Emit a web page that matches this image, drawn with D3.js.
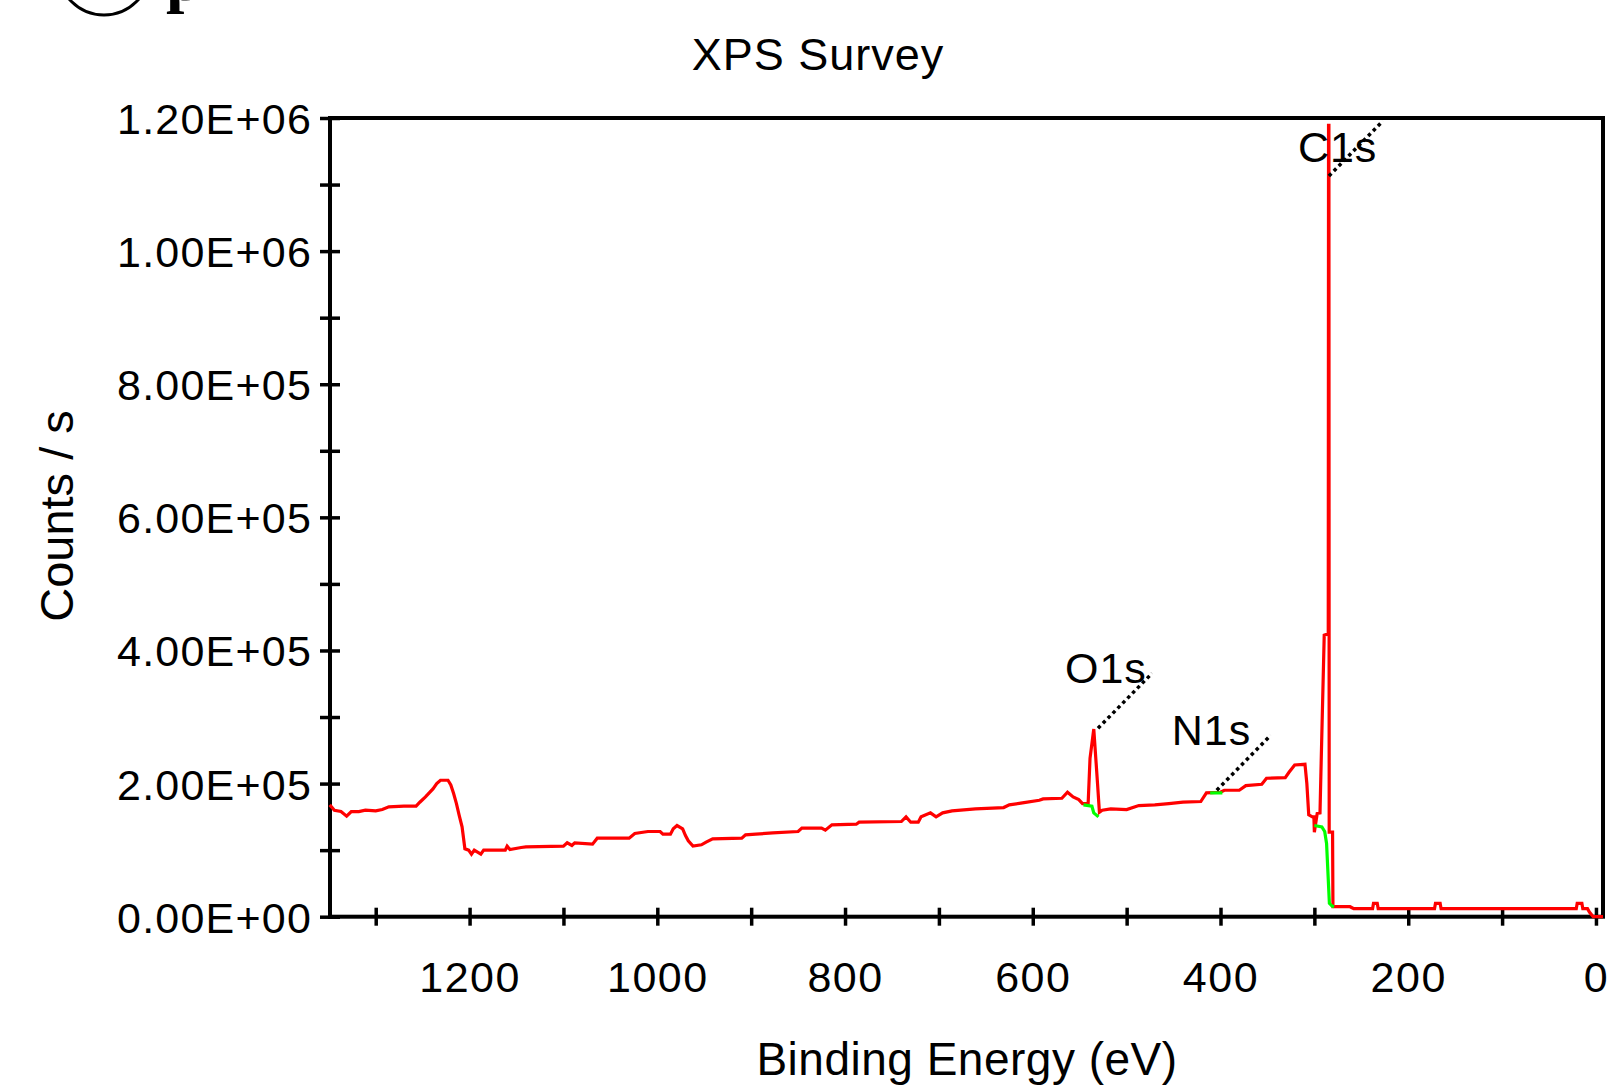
<!DOCTYPE html>
<meta charset="utf-8">
<script src="https://d3js.org/d3.v7.min.js"></script>
<style>
body { margin: 0; background: #fff; }
text { font-family: "Liberation Sans", Arial, Helvetica, sans-serif; fill: #000; }
</style>
<body>
<script>
// survey spectrum (binding energy in eV, counts in counts/s)
const energy = [1349,1344,1337,1331,1326,1318,1311,1300,1293,1286,1270,1257,1253,1247,1243,1239,1235,1231,1223,1220,1217,1214,1211,1208,1205,1201,1198,1195,1188,1185,1162,1160,1157,1145,1140,1100,1096,1091,1088,1069,1064,1030,1024,1010,997,994,986,983,979,973,970,967,962,953,948,941,910,906,895,877,850,846,825,821,814,788,785,740,735,730,722,719,709,703,696,686,661,631,625,611,593,589,569,563,557,551,547,541,539,535,531,529,526,517,500,487,470,455,440,421,415,400,396,380,373,356,351,331,327,321,310,308,306,302,300.5,300,297,294,293,289.5,285.2,284.9,284.5,284.2,280.6,280.2,262,258,238,237,233,232,172,171,166,165,21,20,15,14,9,7,3,-7.5];
const counts = [168,160,158,151,158,158,160,159,161,165,166,166,172,180,186,192,200,205,205,198,185,170,152,135,102,100,94,100,94,100,100,106,101,104,105,106,111,107,111,109,118,118,125,128,128,124,124,132,137,132,122,114,106,108,112,117,118,123,124,126,128,133,133,130,138,139,142,143,150,142,142,150,156,150,156,159,162,164,168,171,175,177,178,187,180,176,170,170,238,282,200,157,160,162,161,167,168,170,172,173,186,187,190,190,197,199,208,209,217,228,229,200,153,150,150,127,155,156,217,423,425,1189,1189,127,127,15,15,12,12,20,20,12,12,20,20,12,12,20,20,12,12,7,0,0].map(v => v * 1000);

// background (green) segments under the peaks
const bgO1s = {e: [546,537,535,530], c: [168000,166000,156000,150000]};
const bgN1s = {e: [411,398], c: [186000,186000]};
const bgC1s = {e: [300,292,289,287,284,281,279], c: [137000,135000,128000,110000,20000,16000,15000]};

// peak labels
const peakNames = ["C1s", "O1s", "N1s"];
const peakEnergy = [284.5, 530.5, 404];
const peakCounts = [1113000, 283000, 190000];

// axis ticks
const xTicks = [1300,1200,1100,1000,900,800,700,600,500,400,300,200,100,0];
const xLabels = {1200:"1200", 1000:"1000", 800:"800", 600:"600", 400:"400", 200:"200", 0:"0"};
const yTicks = [0,100000,200000,300000,400000,500000,600000,700000,800000,900000,1000000,1100000,1200000];
const yLabels = {0:"0.00E+00", 200000:"2.00E+05", 400000:"4.00E+05", 600000:"6.00E+05", 800000:"8.00E+05", 1000000:"1.00E+06", 1200000:"1.20E+06"};

// layout
const W = 1607, H = 1089;
const plotLeft = 330, plotRight = 1603, plotTop = 118, plotBottom = 916.7;
const labelOffset = {"C1s": [-31, -14], "O1s": [-33, -45], "N1s": [-45, -45]};

const svg = d3.select("body").append("svg")
    .attr("width", W)
    .attr("height", H);

const x = d3.scaleLinear().domain([1348.7, -7.5]).range([plotLeft, plotRight]);
const y = d3.scaleLinear().domain([0, 1200000]).range([plotBottom, plotTop]);

// cut-off caption at the very top
svg.append("circle")
    .attr("cx", 104).attr("cy", -31).attr("r", 46)
    .attr("fill", "none").attr("stroke", "#000").attr("stroke-width", 3);
svg.append("text")
    .attr("x", 166).attr("y", 0)
    .style("font-family", "'Liberation Serif', 'Times New Roman', serif")
    .style("font-size", "66px")
    .style("font-weight", "bold")
    .text("p");

// title
svg.append("text")
    .attr("x", 818).attr("y", 70)
    .attr("text-anchor", "middle")
    .style("font-size", "45px")
    .style("letter-spacing", "1px")
    .text("XPS Survey");

// x axis
const gx = svg.append("g")
    .attr("transform", `translate(0,${plotBottom})`)
    .call(d3.axisBottom(x).tickValues(xTicks).tickSize(9).tickFormat(d => xLabels[d] || ""));
gx.select(".domain").remove();
gx.selectAll(".tick line")
    .attr("y1", -9).attr("y2", 9)
    .attr("stroke", "#000").attr("stroke-width", 3.5);
gx.selectAll(".tick text")
    .attr("y", 60).attr("dy", "0.36em")
    .style("font-size", "43px")
    .style("letter-spacing", "1.5px");

// y axis
const gy = svg.append("g")
    .attr("transform", `translate(${plotLeft},0)`)
    .call(d3.axisLeft(y).tickValues(yTicks).tickSize(10).tickFormat(d => yLabels[d] || ""));
gy.select(".domain").remove();
gy.selectAll(".tick line")
    .attr("x1", -10).attr("x2", 10)
    .attr("stroke", "#000").attr("stroke-width", 3.5);
gy.selectAll(".tick text")
    .attr("x", -18).attr("dy", "0.36em")
    .style("font-size", "43px")
    .style("letter-spacing", "1.2px");

// frame
svg.append("rect")
    .attr("x", plotLeft).attr("y", plotTop)
    .attr("width", plotRight - plotLeft).attr("height", plotBottom - plotTop)
    .attr("fill", "none")
    .attr("stroke", "#000")
    .attr("stroke-width", 4);

// axis titles
svg.append("text")
    .attr("x", 967).attr("y", 1075)
    .attr("text-anchor", "middle")
    .style("font-size", "46px")
    .style("letter-spacing", "0.5px")
    .text("Binding Energy (eV)");

svg.append("text")
    .attr("transform", "translate(73,516) rotate(-90)")
    .attr("text-anchor", "middle")
    .style("font-size", "47px")
    .text("Counts / s");

// spectrum
const line = d3.line()
    .x(d => x(d[0]))
    .y(d => y(d[1]));

svg.append("path")
    .datum(d3.zip(energy, counts))
    .attr("d", line)
    .attr("fill", "none")
    .attr("stroke", "#f00")
    .attr("stroke-width", 3.2);

[bgO1s, bgN1s, bgC1s].forEach(bg => {
  svg.append("path")
      .datum(d3.zip(bg.e, bg.c))
      .attr("d", line)
      .attr("fill", "none")
      .attr("stroke", "#00ff00")
      .attr("stroke-width", 3.2);
});

// peak labels with dotted leaders
peakNames.forEach((name, i) => {
  const px = x(peakEnergy[i]), py = y(peakCounts[i]);
  svg.append("line")
      .attr("x1", px).attr("y1", py)
      .attr("x2", px + 54).attr("y2", py - 55)
      .attr("stroke", "#000")
      .attr("stroke-width", 3.5)
      .attr("stroke-dasharray", "3.5,3.5");
  svg.append("text")
      .attr("x", px + labelOffset[name][0])
      .attr("y", py + labelOffset[name][1])
      .style("font-size", "43px")
      .style("letter-spacing", "1px")
      .text(name);
});
</script>
</body>
